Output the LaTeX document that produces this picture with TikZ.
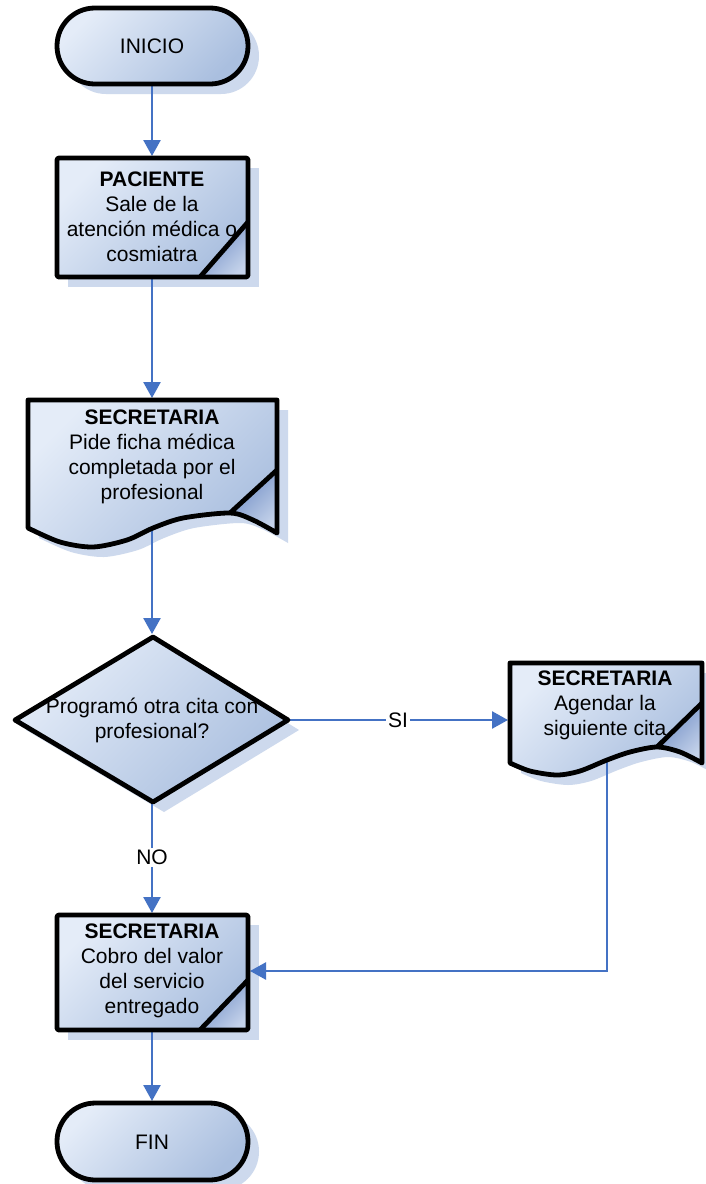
\documentclass[tikz,border=0pt]{standalone}
\usepackage{fontspec}
\setmainfont{Liberation Sans}
\usetikzlibrary{arrows.meta}
\definecolor{cl}{RGB}{228,236,248}
\definecolor{cd}{RGB}{170,191,223}
\definecolor{shd}{RGB}{205,217,237}
\definecolor{fold}{RGB}{110,140,196}
\definecolor{foldl}{RGB}{196,210,234}
\definecolor{conn}{RGB}{68,114,196}
\tikzset{
  shapefill/.style={top color=cl, bottom color=cd, shading angle=45},
  shapedraw/.style={draw=black, line width=4.8pt, line join=round},
  shadowfill/.style={fill=shd},
  foldfill/.style={top color=fold, bottom color=foldl, shading angle=45},
  txt/.style={font=\fontsize{21}{25}\selectfont, align=center, inner sep=0pt},
  flow/.style={draw=conn, line width=2.5pt, -{Triangle[length=16pt,width=17pt]}},
  lbl/.style={font=\fontsize{21}{25}\selectfont, fill=white, inner sep=2pt},
}
\begin{document}
\begin{tikzpicture}[x=1pt,y=-1pt]
\useasboundingbox (0,0) rectangle (706,1184);
\fill[white] (0,0) rectangle (706,1184);

% ---------- shadows ----------
\begin{scope}[shift={(11,10)}]
  \fill[shadowfill, rounded corners=37.9pt] (57,8) rectangle (248,84);
  \fill[shadowfill] (57,158) rectangle (248,277);
  \fill[shadowfill] (28,400) -- (277,400) -- plot[smooth] coordinates {(277,533) (253,520) (230,513) (183,518) (153,528) (127,540) (93,547) (60,542) (28,528)} -- cycle;
  \fill[shadowfill] (153,637) -- (288,720) -- (153,802) -- (15,720) -- cycle;
  \fill[shadowfill] (510,663) -- (702,663) -- plot[smooth] coordinates {(702,763) (680,752) (657,747) (630,752) (607,760) (580,771) (557,775) (530,771) (510,763)} -- cycle;
  \fill[shadowfill] (57,915) rectangle (248,1030);
  \fill[shadowfill, rounded corners=38.4pt] (57,1103) rectangle (248,1180);
\end{scope}

% ---------- connector end points ----------
\coordinate (a0) at (152,84);
\coordinate (a1t) at (152,156);
\coordinate (a1b) at (152,277);
\coordinate (a2t) at (152,398);
\coordinate (a2b) at (152,529);
\coordinate (a3t) at (152,634);
\coordinate (a3r) at (288,720);
\coordinate (a4l) at (508,720);
\coordinate (a3b) at (152,802);
\coordinate (a5t) at (152,913);
\coordinate (a4b) at (607,760);
\coordinate (a5r) at (250,971);
\coordinate (a5b) at (152,1030);
\coordinate (a6t) at (152,1101);

% ---------- connectors ----------
\draw[flow] (a0) -- (a1t);
\draw[flow] (a1b) -- (a2t);
\draw[flow] (a2b) -- (a3t);
\draw[flow] (a3r) -- node[lbl] (si) {SI} (a4l);
\draw[flow] (a3b) -- node[lbl] (no) {NO} (a5t);
\draw[flow] (a4b) |- (a5r);
\draw[flow] (a5b) -- (a6t);

% ---------- INICIO ----------
\path[shapefill, rounded corners=37.9pt] (57,8) rectangle (248,84);
\draw[shapedraw, rounded corners=37.9pt] (57,8) rectangle (248,84);

% ---------- PACIENTE ----------
\path[shapefill] (57,158) rectangle (248,277);
\path[foldfill] (248,222) -- (200,277) -- (248,277) -- cycle;
\draw[shapedraw, rounded corners=2pt] (57,158) rectangle (248,277);
\draw[shapedraw] (248,222) -- (200,277);

% ---------- SECRETARIA doc 1 ----------
\path[shapefill] (28,400) -- (277,400) -- plot[smooth] coordinates {(277,533) (253,520) (230,513) (183,518) (153,528) (127,540) (93,547) (60,542) (28,528)} -- cycle;
\path[foldfill] (277,470) -- (230,513) -- plot[smooth] coordinates {(230,513) (253,520) (277,533)} -- cycle;
\draw[shapedraw] (28,400) -- (277,400) -- plot[smooth] coordinates {(277,533) (253,520) (230,513) (183,518) (153,528) (127,540) (93,547) (60,542) (28,528)} -- cycle;
\draw[shapedraw] (277,470) -- (230,513);

% ---------- decision ----------
\path[shapefill] (153,637) -- (288,720) -- (153,802) -- (15,720) -- cycle;
\draw[shapedraw] (153,637) -- (288,720) -- (153,802) -- (15,720) -- cycle;

% ---------- SECRETARIA doc 2 ----------
\path[shapefill] (510,663) -- (702,663) -- plot[smooth] coordinates {(702,763) (680,752) (657,747) (630,752) (607,760) (580,771) (557,775) (530,771) (510,763)} -- cycle;
\path[foldfill] (702,703) -- (657,747) -- plot[smooth] coordinates {(657,747) (680,752) (702,763)} -- cycle;
\draw[shapedraw] (510,663) -- (702,663) -- plot[smooth] coordinates {(702,763) (680,752) (657,747) (630,752) (607,760) (580,771) (557,775) (530,771) (510,763)} -- cycle;
\draw[shapedraw] (702,703) -- (657,747);

% ---------- SECRETARIA cobro ----------
\path[shapefill] (57,915) rectangle (248,1030);
\path[foldfill] (248,980) -- (200,1030) -- (248,1030) -- cycle;
\draw[shapedraw, rounded corners=2pt] (57,915) rectangle (248,1030);
\draw[shapedraw] (248,980) -- (200,1030);

% ---------- FIN ----------
\path[shapefill, rounded corners=38.4pt] (57,1103) rectangle (248,1180);
\draw[shapedraw, rounded corners=38.4pt] (57,1103) rectangle (248,1180);

% ---------- texts ----------
\node[txt] (t0) at (152,46) {INICIO};
\node[txt] (t1) at (152,217) {\textbf{PACIENTE}\\Sale de la\\atención médica o\\cosmiatra};
\node[txt] (t2) at (152,457) {\textbf{SECRETARIA}\\Pide ficha médica\\completada por el\\profesional};
\node[txt] (t3) at (152,720) {Programó otra cita con\\profesional?};
\node[txt] (t4) at (605,705) {\textbf{SECRETARIA}\\Agendar la\\siguiente cita};
\node[txt] (t5) at (152,971) {\textbf{SECRETARIA}\\Cobro del valor\\del servicio\\entregado};
\node[txt] (t6) at (152,1142) {FIN};
\end{tikzpicture}
\end{document}
